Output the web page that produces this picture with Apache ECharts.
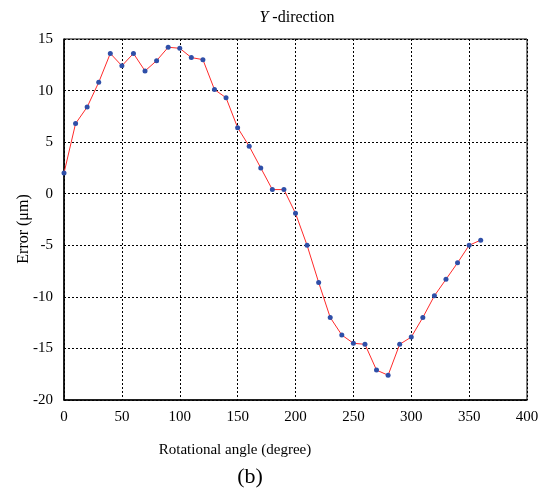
<!DOCTYPE html>
<html>
<head>
<meta charset="utf-8">
<script src="https://cdn.jsdelivr.net/npm/echarts@6/dist/echarts.min.js"></script>
<style>
  html, body { margin: 0; padding: 0; background: #fff; }
  #chart { width: 552px; height: 492px; }
</style>
</head>
<body>
<div id="chart"></div>
<script>
// угол поворота, градусы
const angles = [0, 10, 20, 30, 40, 50, 60, 70, 80, 90, 100, 110, 120, 130, 140, 150, 160, 170, 180, 190,
  200, 210, 220, 230, 240, 250, 260, 270, 280, 290, 300, 310, 320, 330, 340, 350, 360];
// погрешность по Y, мкм
const errorY = [2.0, 6.8, 8.4, 10.8, 13.6, 12.4, 13.6, 11.9, 12.9, 14.2, 14.1, 13.2, 13.0, 10.1, 9.3, 6.4, 4.6, 2.5, 0.4, 0.4,
  -1.9, -5.0, -8.6, -12.0, -13.7, -14.5, -14.6, -17.1, -17.6, -14.6, -13.9, -12.0, -9.9, -8.3, -6.7, -5.0, -4.5];
const xTicks = { min: 0, max: 400, step: 50 };
const yTicks = { min: -20, max: 15, step: 5 };

const FONT = '"Liberation Serif", "Times New Roman", serif';
const chart = echarts.init(document.getElementById('chart'));

const dotted = { show: true, lineStyle: { color: '#000', type: [2, 2], width: 1 } };

chart.setOption({
  animation: false,
  textStyle: { fontFamily: FONT, color: '#000' },
  title: {
    text: '{i|Y}{n| -direction}',
    left: 292, top: 5, textAlign: 'center',
    textStyle: {
      fontWeight: 'normal',
      rich: {
        i: { fontFamily: FONT, fontStyle: 'italic', fontWeight: 'normal', fontSize: 16, color: '#000' },
        n: { fontFamily: FONT, fontWeight: 'normal', fontSize: 16, color: '#000' },
      },
    },
  },
  grid: { left: 64, right: 25, top: 39, bottom: 92, show: true, borderColor: '#000', borderWidth: 1 },
  xAxis: {
    type: 'value', min: xTicks.min, max: xTicks.max, interval: xTicks.step,
    axisLine: { show: true, onZero: false, lineStyle: { color: '#000', width: 1.5 } },
    axisTick: { show: false },
    axisLabel: { fontFamily: FONT, fontSize: 15, color: '#000', margin: 10 },
    splitLine: dotted,
  },
  yAxis: {
    type: 'value', min: yTicks.min, max: yTicks.max, interval: yTicks.step,
    axisLine: { show: true, onZero: false, lineStyle: { color: '#000', width: 1.5 } },
    axisTick: { show: false },
    axisLabel: { fontFamily: FONT, fontSize: 15, color: '#000', margin: 11, padding: [6, 0, 0, 0] },
    splitLine: dotted,
  },
  graphic: [
    // подпись оси Y — вручную, центр чуть ниже середины графика, как в оригинале
    { type: 'text', x: 24, y: 229, rotation: Math.PI / 2,
      style: { text: 'Error (μm)', font: '16px ' + FONT, fill: '#000', align: 'center', verticalAlign: 'middle' } },
    { type: 'text', x: 235, y: 450,
      style: { text: 'Rotational angle (degree)', font: '15px ' + FONT, fill: '#000', align: 'center', verticalAlign: 'middle' } },
    { type: 'text', x: 250, y: 477,
      style: { text: '(b)', font: '22px ' + FONT, fill: '#000', align: 'center', verticalAlign: 'middle' } },
  ],
  series: [{
    type: 'line',
    data: angles.map((a, i) => [a, errorY[i]]),
    symbol: 'circle', symbolSize: 5,
    itemStyle: { color: '#2f4fa8' },
    lineStyle: { color: '#ff2a2a', width: 1 },
    z: 3,
  }],
});
</script>
</body>
</html>
